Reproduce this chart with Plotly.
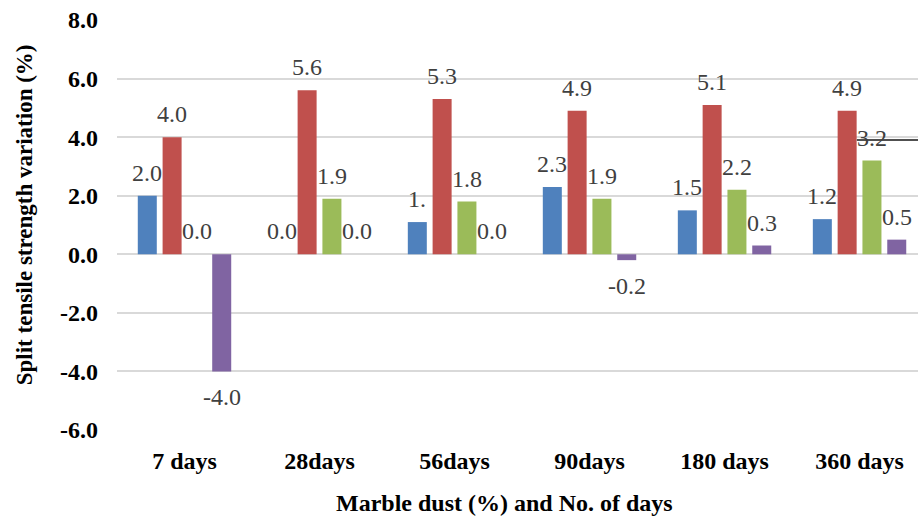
import plotly.graph_objects as go

# Split tensile strength variation (%) by curing age, four mixes
categories = ["7 days", "28days", "56days", "90days", "180 days", "360 days"]
series_blue = [2.0, 0.0, 1.1, 2.3, 1.5, 1.2]
series_red = [4.0, 5.6, 5.3, 4.9, 5.1, 4.9]
series_green = [0.0, 1.9, 1.8, 1.9, 2.2, 3.2]
series_purple = [-4.0, 0.0, 0.0, -0.2, 0.3, 0.5]
y_ticks = [-6.0, -4.0, -2.0, 0.0, 2.0, 4.0, 6.0, 8.0]

# (category index, series index) of data labels that are shown cut short
clipped_labels = [(2, 0)]

series = [series_blue, series_red, series_green, series_purple]
colors = ["#4f81bd", "#c0504d", "#9bbb59", "#8064a2"]

FONT = "Times New Roman, Liberation Serif, DejaVu Serif, serif"
BARGAP = 0.265
BARGROUPGAP = 0.234

fig = go.Figure()
for vals, col in zip(series, colors):
    fig.add_trace(go.Bar(
        x=list(range(len(categories))), y=vals,
        marker=dict(color=col, line=dict(width=0)),
        hoverinfo="skip", showlegend=False,
    ))

# value labels sitting just outside each bar end
slot = (1 - BARGAP) / len(series)
annotations = []
for j, vals in enumerate(series):
    for i, v in enumerate(vals):
        txt = f"{v:.1f}"
        if (i, j) in clipped_labels:
            txt = txt[:2]
        above = v >= 0
        annotations.append(dict(
            x=i + (j - (len(series) - 1) / 2) * slot, y=v,
            xref="x", yref="y", text=txt, showarrow=False,
            xanchor="center", yanchor="bottom" if above else "top",
            yshift=8 if above else -11,
            font=dict(family=FONT, size=24, color="#404040"),
        ))

annotations.append(dict(
    text="Split tensile strength variation (%)", textangle=-90,
    x=-0.116, y=0.524, xref="paper", yref="paper",
    xanchor="center", yanchor="middle", showarrow=False,
    font=dict(family=FONT, size=23, color="#000000", weight="bold"),
))
annotations.append(dict(
    text="Marble dust (%) and No. of days",
    x=0.484, y=-0.178, xref="paper", yref="paper",
    xanchor="center", yanchor="middle", showarrow=False,
    font=dict(family=FONT, size=24, color="#000000", weight="bold"),
))

fig.update_layout(
    width=918, height=522,
    margin=dict(l=117, r=0, t=20, b=92),
    paper_bgcolor="white", plot_bgcolor="white",
    barmode="group", bargap=BARGAP, bargroupgap=BARGROUPGAP,
    annotations=annotations,
    shapes=[dict(type="line", xref="x", yref="y",
                 x0=4.98, x1=5.433, y0=3.9, y1=3.9,
                 line=dict(color="#505050", width=2))],
    xaxis=dict(
        range=[-0.5, 5.433],
        tickmode="array", tickvals=list(range(len(categories))), ticktext=categories,
        showgrid=False, zeroline=False, showline=False, ticks="",
        ticklabelstandoff=14,
        tickfont=dict(family=FONT, size=24, color="#000000", weight="bold"),
    ),
    yaxis=dict(
        range=[-6, 8], tickmode="array", tickvals=y_ticks,
        ticktext=[f"{t:.1f}" for t in y_ticks],
        showgrid=True, gridcolor="#d9d9d9", gridwidth=2,
        zeroline=True, zerolinecolor="#d9d9d9", zerolinewidth=2,
        showline=False, ticks="", ticklabelstandoff=18,
        tickfont=dict(family=FONT, size=24, color="#000000", weight="bold"),
    ),
)

fig.write_html("out.html")
